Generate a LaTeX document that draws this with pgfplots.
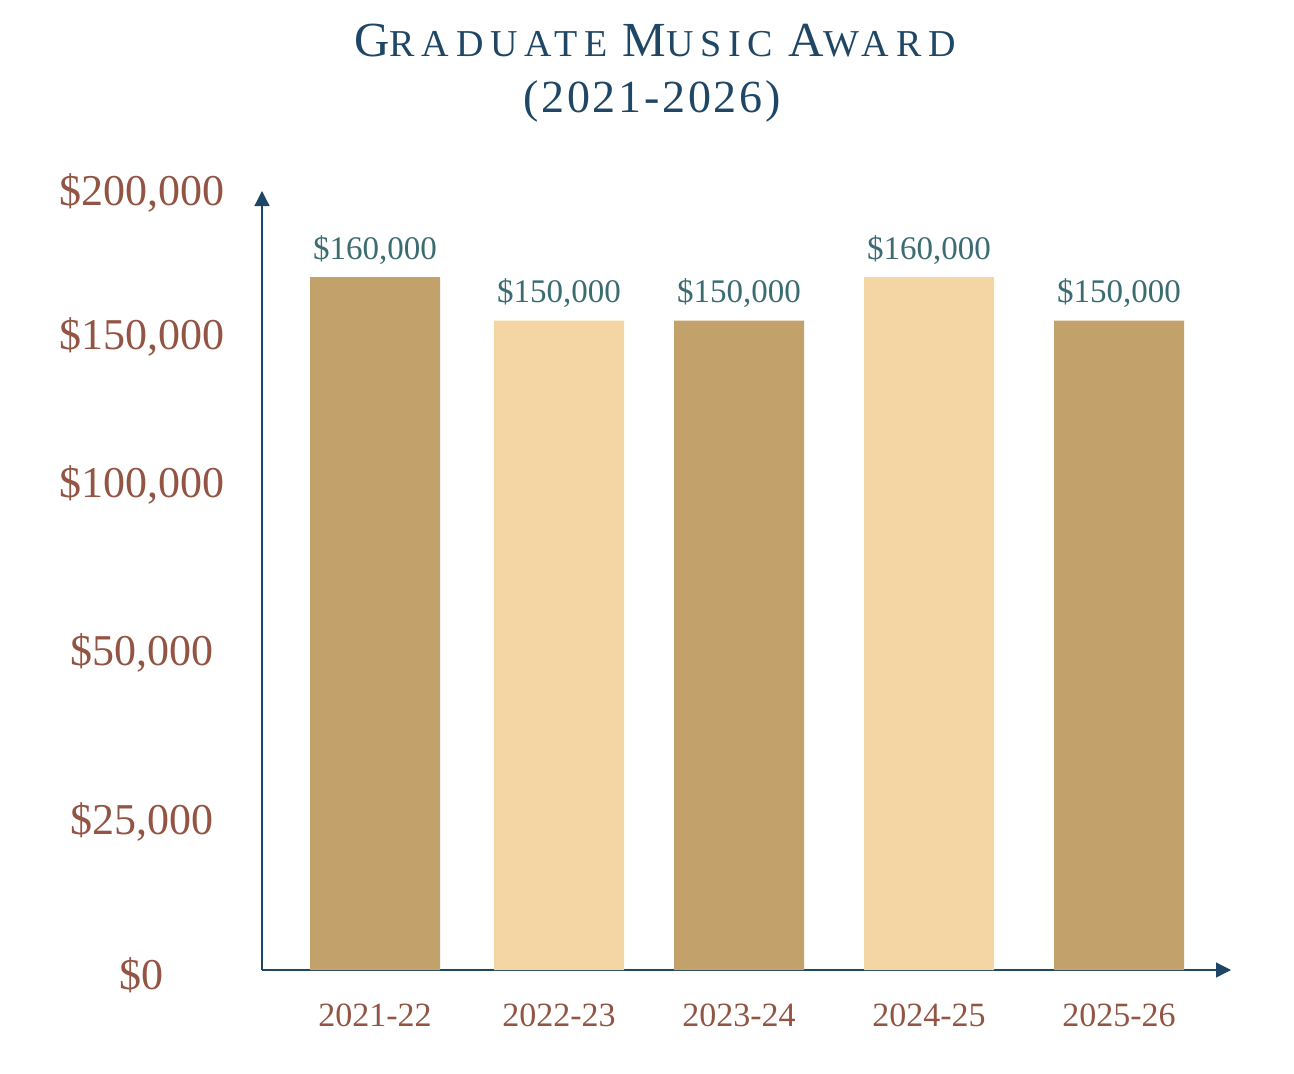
\documentclass[border=0pt]{standalone}
\usepackage{fontspec}
\setmainfont{Liberation Serif}
\usepackage{pgfplots}
\pgfplotsset{compat=1.18}
\usetikzlibrary{arrows.meta}
\definecolor{navyc}{RGB}{31,71,101}
\definecolor{brownc}{RGB}{147,84,67}
\definecolor{tealc}{RGB}{59,108,114}
\definecolor{darkbar}{RGB}{194,161,106}
\definecolor{lightbar}{RGB}{244,214,164}
\newcommand\smc[1]{{\fontsize{19}{22}\selectfont #1}}
\begin{document}
\begin{tikzpicture}
\path[use as bounding box] (0,0) rectangle (647pt,-537pt);
\node[anchor=base,text=navyc,inner sep=0pt] at (327.5pt,-28.5pt) {\fontsize{24.5}{28}\selectfont\addfontfeature{LetterSpace=18}G\smc{RADUATE}\hspace{0.3em}M\smc{USIC}\hspace{0.3em}A\smc{WARD}};
\node[anchor=base,text=navyc,inner sep=0pt] at (326pt,-56.5pt) {\fontsize{23}{28}\selectfont\addfontfeature{LetterSpace=6}(2021-2026)};
\begin{axis}[
  at={(131pt,-485pt)}, anchor=south west,
  scale only axis, width=484.5pt, height=389.5pt,
  xmin=262, xmax=1231, ymin=0, ymax=179907,
  axis lines=left,
  axis line style={draw=navyc, line width=0.6pt, -{Triangle[length=7.5pt,width=7.5pt]}},
  ybar, bar width=65pt,
  xtick={375,559,739,929,1119},
  xticklabels={2021-22,2022-23,2023-24,2024-25,2025-26},
  ytick={34180,73210,112010,146190,179450},
  yticklabels={{\$25,000},{\$50,000},{\$100,000},{\$150,000},{\$200,000}},
  extra y ticks={0},
  extra y tick labels={{\$0}},
  extra y tick style={yticklabel style={yshift=-2.5pt}},
  major tick length=0pt,
  xticklabel style={anchor=center, yshift=-22.5pt, font=\fontsize{17}{20}\selectfont, text=brownc},
  yticklabel style={anchor=center, xshift=-60pt, font=\fontsize{22}{26}\selectfont, text=brownc},
  nodes near coords, point meta=explicit symbolic,
  nodes near coords style={anchor=base, yshift=9pt, font=\fontsize{16.5}{20}\selectfont, text=tealc},
  clip=false,
  scaled y ticks=false,
]
\addplot[fill=darkbar, draw=none, bar shift=0pt] coordinates {(375,160000) [{\$160,000}] (739,150000) [{\$150,000}] (1119,150000) [{\$150,000}]};
\addplot[fill=lightbar, draw=none, bar shift=0pt] coordinates {(559,150000) [{\$150,000}] (929,160000) [{\$160,000}]};
\end{axis}
\end{tikzpicture}
\end{document}
